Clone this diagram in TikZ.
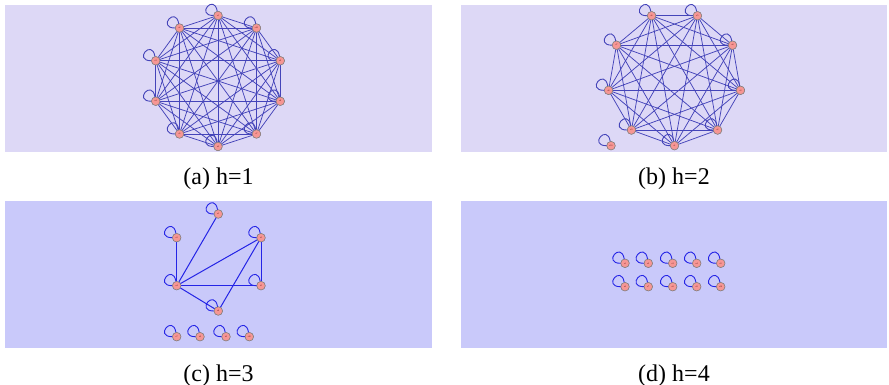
\documentclass[tikz,border=0pt]{standalone}
\usepackage{fontspec}
\setmainfont{Liberation Serif}
\definecolor{panelA}{RGB}{221,216,246}
\definecolor{panelB}{RGB}{201,201,250}
\definecolor{edgeA}{RGB}{68,68,185}
\definecolor{edgeB}{RGB}{36,36,230}
\definecolor{vpink}{RGB}{246,150,148}

\tikzset{
  vtx/.style={circle,fill=vpink,draw=black!50,line width=0.5pt,inner sep=0pt,
    minimum size=8.5pt,font=\fontsize{2.2}{2.5}\selectfont,text=red!35!black},
  link/.style={line width=0.75pt},
  boldlink/.style={line width=1pt},
  selfloop/.style={loop,out=100,in=180,min distance=12pt,looseness=8,line width=0.9pt},
  panel/.style={fill=#1,draw=none},
  caption/.style={font=\fontsize{24}{28}\selectfont,anchor=base}
}

\begin{document}
\begin{tikzpicture}[x=1pt,y=-1pt,line cap=round,line join=round]
\useasboundingbox (0,0) rectangle (889,385);
% panels
\fill[panel=panelA] (5,5) rectangle (432,152);
\fill[panel=panelA] (461,5) rectangle (887,152);
\fill[panel=panelB] (5,201) rectangle (432,348);
\fill[panel=panelB] (461,201) rectangle (887,348);

% (a) h=1 : ten vertices, all joined
\foreach \k in {1,...,10} {
  \pgfmathsetmacro\ang{90+36*(\k-1)}
  \coordinate (a\k) at ({218+65.5*cos(\ang)},{81-65.5*sin(\ang)});
}
\foreach \i in {1,...,9} {
  \pgfmathtruncatemacro\nxt{\i+1}
  \foreach \j in {\nxt,...,10}
    \draw[link,edgeA] (a\i) -- (a\j);
}
\foreach \k in {1,...,10} {
  \node[vtx] (a\k) at (a\k) {s\k};
  \draw[edgeA] (a\k) edge[selfloop] (a\k);
  \node[vtx] at (a\k) {s\k};
}

% (b) h=2 : nine vertices, all joined, one apart
\foreach \k in {1,...,9} {
  \pgfmathsetmacro\ang{270+40*(\k-1)}
  \coordinate (b\k) at ({674.5+67*cos(\ang)},{78.7-67*sin(\ang)});
}
\foreach \i in {1,...,8} {
  \pgfmathtruncatemacro\nxt{\i+1}
  \foreach \j in {\nxt,...,9}
    \draw[link,edgeA] (b\i) -- (b\j);
}
\foreach \k in {1,...,9} {
  \node[vtx] (b\k) at (b\k) {s\k};
  \draw[edgeA] (b\k) edge[selfloop] (b\k);
  \node[vtx] at (b\k) {s\k};
}
\node[vtx] (b10) at (611,145.7) {s10};
\draw[edgeA] (b10) edge[selfloop] (b10);
\node[vtx] at (b10) {s10};

% (c) h=3
\node[vtx] (c1) at (218.3,214) {s1};
\node[vtx] (c2) at (176.7,237.7) {s2};
\node[vtx] (c3) at (261,237.7) {s3};
\node[vtx] (c4) at (176.7,285.7) {s4};
\node[vtx] (c5) at (261,285.7) {s5};
\node[vtx] (c6) at (218.3,311) {s6};
\node[vtx] (c7) at (176.7,336.7) {s7};
\node[vtx] (c8) at (200,336.7) {s8};
\node[vtx] (c9) at (226,336.7) {s9};
\node[vtx] (c10) at (249.3,336.7) {s10};
\foreach \t in {1,2,3,5,6}
  \draw[boldlink,edgeB] (c4) -- (c\t);
\draw[boldlink,edgeB] (c3) -- (c5);
\draw[boldlink,edgeB] (c3) -- (c6);
\foreach \k in {1,...,10} {
  \draw[edgeB] (c\k) edge[selfloop] (c\k);
  \node[vtx] at (c\k) {s\k};
}

% (d) h=4 : only self loops
\foreach \r [count=\row] in {263.3,286.7}
  \foreach \c [count=\col] in {625,648.3,672.7,696.7,720.7} {
    \pgfmathtruncatemacro\idx{5*(\row-1)+\col}
    \node[vtx] (d\idx) at (\c,\r) {s\idx};
    \draw[edgeB] (d\idx) edge[selfloop] (d\idx);
    \node[vtx] at (d\idx) {s\idx};
  }

% captions
\node[caption] (capa) at (218.5,185) {(a) h=1};
\node[caption] (capb) at (674,185) {(b) h=2};
\node[caption] (capc) at (218.5,381) {(c) h=3};
\node[caption] (capd) at (674,381) {(d) h=4};
\end{tikzpicture}
\end{document}
